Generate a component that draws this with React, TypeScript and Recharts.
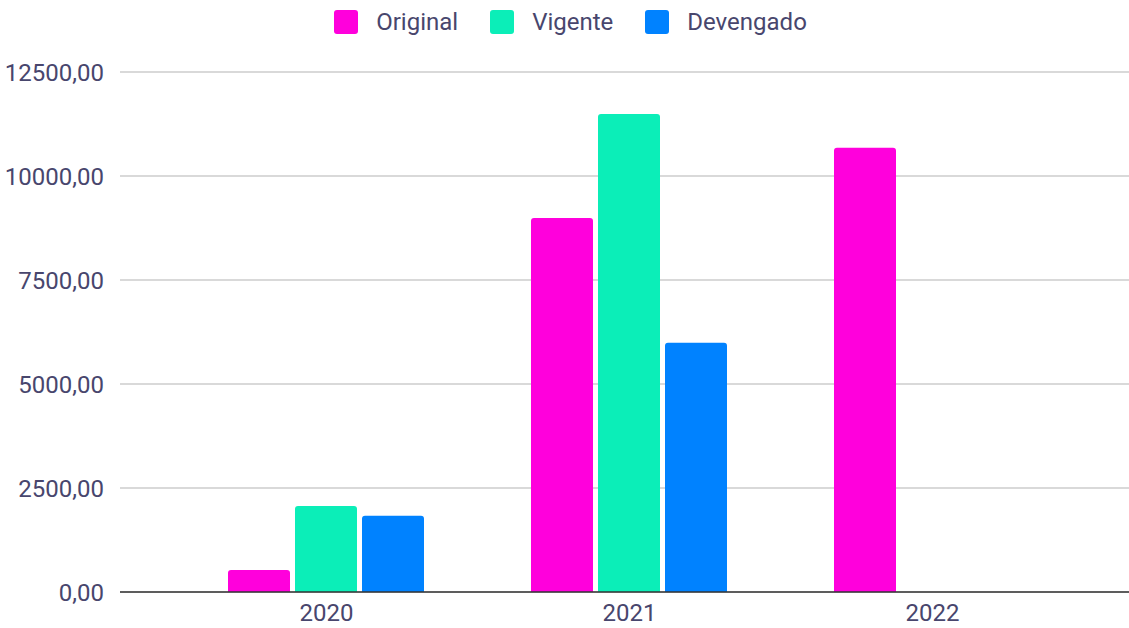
import { Bar, BarChart, CartesianGrid, Legend, XAxis, YAxis } from "recharts"

const years = ["2020", "2021", "2022"]
const original = [530, 8990, 10680]
const vigente = [2070, 11490, 0]
const devengado = [1830, 5990, 0]
const yTicks = [0, 2500, 5000, 7500, 10000, 12500]

const series = [
  { key: "original", label: "Original", color: "#ff00dc" },
  { key: "vigente", label: "Vigente", color: "#0beeb8" },
  { key: "devengado", label: "Devengado", color: "#0082ff" },
]

const data = years.map((year, i) => ({
  year,
  original: original[i],
  vigente: vigente[i],
  devengado: devengado[i],
}))

const textColor = "#48466d"
const font = "Roboto, Arial, sans-serif"

const fmt = (v: number) => v.toFixed(2).replace(".", ",")

function LegendBox() {
  return (
    <div style={{ display: "flex", justifyContent: "center", gap: 32, paddingLeft: 12, fontFamily: font, fontSize: 24, lineHeight: "24px", color: textColor }}>
      {series.map((s) => (
        <div key={s.key} style={{ display: "flex", alignItems: "center", gap: 18 }}>
          <span style={{ width: 24, height: 24, borderRadius: 3, background: s.color, display: "inline-block" }} />
          <span>{s.label}</span>
        </div>
      ))}
    </div>
  )
}

export default function App() {
  return (
    <div style={{ position: "fixed", top: 0, left: 0, width: 1129, height: 628, background: "#fff" }}>
      <BarChart width={1129} height={628} data={data} margin={{ top: 48, right: 0, bottom: 0, left: 0 }} barCategoryGap={53} barGap={5}>
        <CartesianGrid vertical={false} stroke="#cccccc" strokeWidth={1.5} />
        <Legend verticalAlign="top" height={24} content={() => <LegendBox />} wrapperStyle={{ top: 10, left: 0, width: 1129 }} />
        <XAxis
          dataKey="year"
          height={36}
          padding={{ left: 55, right: 45 }}
          tickLine={false}
          axisLine={{ stroke: "#333333", strokeWidth: 1.5 }}
          tick={{ fill: textColor, fontSize: 24, fontFamily: font }}
          tickMargin={6}
        />
        <YAxis
          width={120}
          domain={[0, 12500]}
          ticks={yTicks}
          tickFormatter={fmt}
          axisLine={false}
          tickLine={false}
          tick={{ fill: textColor, fontSize: 24, fontFamily: font }}
          tickMargin={10}
        />
        {series.map((s) => (
          <Bar key={s.key} dataKey={s.key} name={s.label} fill={s.color} radius={[3, 3, 0, 0]} isAnimationActive={false} />
        ))}
      </BarChart>
    </div>
  )
}
